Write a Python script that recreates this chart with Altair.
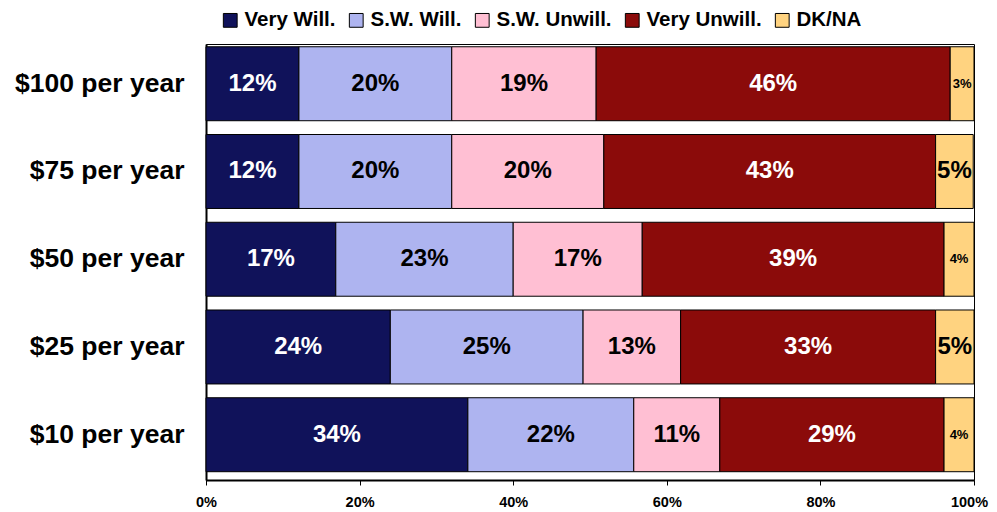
import altair as alt
import pandas as pd

rows = ["$100 per year", "$75 per year", "$50 per year", "$25 per year", "$10 per year"]
series = ["Very Will.", "S.W. Will.", "S.W. Unwill.", "Very Unwill.", "DK/NA"]
colors = ["#10125A", "#AEB4F0", "#FFBFD3", "#8B0B0A", "#FFD380"]

very_will = [12.1, 12.1, 16.9, 24.0, 34.1]
sw_will = [19.9, 19.9, 23.1, 25.1, 21.6]
sw_unwill = [18.8, 19.8, 16.8, 12.7, 11.2]
very_unwill = [46.1, 43.2, 39.3, 33.2, 29.2]
dk_na = [3.1, 4.9, 3.9, 5.0, 3.9]

vals = [very_will, sw_will, sw_unwill, very_unwill, dk_na]
recs = []
for si, s in enumerate(series):
    for ri, r in enumerate(rows):
        recs.append({"row": r, "series": s, "order": si, "value": vals[si][ri]})
df = pd.DataFrame(recs)

font = "Liberation Sans"

base = alt.Chart(df).transform_stack(
    stack="value", as_=["x0", "x1"], groupby=["row"],
    sort=[alt.SortField("order", order="ascending")]
).transform_calculate(
    mid="(datum.x0 + datum.x1) / 2",
    label="format(round(datum.value), 'd') + '%'"
)

y_scale = alt.Scale(paddingInner=0.157, paddingOuter=0.063, align=0.25)

y_enc = alt.Y("row:N", sort=rows, title=None, scale=y_scale,
              axis=alt.Axis(labelFont=font, labelFontSize=26.5, labelFontWeight="bold",
                            labelColor="#000", ticks=False, domainColor="#000",
                            domainWidth=2, labelPadding=22))

bars = base.mark_bar(stroke="#000", strokeWidth=1).encode(
    x=alt.X("x0:Q", title=None,
            scale=alt.Scale(domain=[0, 100], nice=False),
            axis=alt.Axis(values=[0, 20, 40, 60, 80, 100],
                          labelExpr="datum.value + '%'",
                          labelFont=font, labelFontSize=14.5, labelFontWeight="bold",
                          labelColor="#000", grid=False, tickColor="#000",
                          tickSize=5, domainColor="#000", domainWidth=2,
                          labelPadding=10, labelFlush=False, labelOverlap=False,
                          labelOffset=alt.ExprRef(expr="datum.value == 100 ? -5 : 0"))),
    x2="x1:Q",
    y=y_enc,
    color=alt.Color("series:N", sort=series,
                    scale=alt.Scale(domain=series, range=colors),
                    legend=alt.Legend(title=None, orient="none", direction="horizontal",
                                      legendX=14, legendY=-34,
                                      symbolType="square", symbolSize=190,
                                      symbolStrokeColor="#000", symbolStrokeWidth=1,
                                      labelFont=font, labelFontSize=20.5,
                                      labelFontWeight="bold", labelColor="#000",
                                      columnPadding=10, labelOffset=4)),
    order=alt.Order("order:Q"),
)

texts = base.mark_text(font=font, fontWeight="bold").encode(
    x=alt.X("mid:Q"),
    y=alt.Y("row:N", sort=rows, scale=y_scale),
    text="label:N",
    color=alt.condition(
        "datum.series == 'Very Will.' || datum.series == 'Very Unwill.'",
        alt.value("#FFFFFF"), alt.value("#000000")),
    size=alt.condition(
        "datum.series == 'DK/NA' && datum.value < 4.5",
        alt.value(13), alt.value(24)),
)

chart = alt.layer(bars, texts).properties(
    width=768, height=436,
    autosize=alt.AutoSizeParams(type="none"),
    padding={"left": 198, "top": 36, "right": 15, "bottom": 32},
).configure_view(stroke="#000", strokeWidth=1)

chart.save("out.html", embed_options={"renderer": "svg", "actions": False})
